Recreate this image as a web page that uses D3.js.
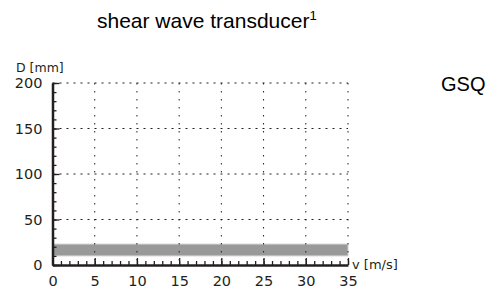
<!DOCTYPE html>
<html>
<head>
<meta charset="utf-8">
<script src="https://cdn.jsdelivr.net/npm/d3@7"></script>
<style>
  body { margin: 0; background: #fff; }
  svg { display: block; }
  .tick text { font-family: "DejaVu Sans", sans-serif; font-size: 14.5px; fill: #231f20; }
</style>
</head>
<body>
<div id="chart"></div>
<script>
// chart values
var xTicks = [0, 5, 10, 15, 20, 25, 30, 35];
var yTicks = [0, 50, 100, 150, 200];
var xDomain = [0, 35];
var yDomain = [0, 200];
var bandRange = [10, 23];   // D range of the transducer, mm
var title = "shear wave transducer";
var titleSup = "1";
var sideLabel = "GSQ";

var svgWidth = 492, svgHeight = 295;
var margin = { top: 83, right: 144, bottom: 30, left: 52.5 };
var width = svgWidth - margin.left - margin.right,
    height = svgHeight - margin.top - margin.bottom;

var svg = d3.select("#chart").append("svg")
    .attr("width", svgWidth)
    .attr("height", svgHeight);

var x = d3.scaleLinear().domain(xDomain).range([0, width]);
var y = d3.scaleLinear().domain(yDomain).range([height, 0]);

var g = svg.append("g")
    .attr("transform", "translate(" + margin.left + "," + margin.top + ")");

// band
g.append("rect")
    .attr("x", x(xDomain[0]))
    .attr("width", x(xDomain[1]) - x(xDomain[0]))
    .attr("y", y(bandRange[1]))
    .attr("height", y(bandRange[0]) - y(bandRange[1]))
    .attr("fill", "#999999")
    .attr("stroke", "#d0d0d0")
    .attr("stroke-width", 1);

// dotted grid
g.append("g").selectAll("line")
    .data(xTicks.filter(function (d) { return d > 0; }))
    .enter().append("line")
    .attr("x1", function (d) { return x(d); })
    .attr("x2", function (d) { return x(d); })
    .attr("y1", y(yDomain[1]))
    .attr("y2", y(yDomain[0]))
    .attr("stroke", "#231f20")
    .attr("stroke-width", 1)
    .attr("stroke-dasharray", "1.5,6.5");
g.append("g").selectAll("line")
    .data(yTicks.filter(function (d) { return d > 0; }))
    .enter().append("line")
    .attr("x1", x(xDomain[0]))
    .attr("x2", x(xDomain[1]))
    .attr("y1", function (d) { return y(d); })
    .attr("y2", function (d) { return y(d); })
    .attr("stroke", "#231f20")
    .attr("stroke-width", 1)
    .attr("stroke-dasharray", "2,5");

// minor ticks
var xAxisMinor = d3.axisBottom(x).ticks(35).tickSize(-4).tickFormat("");
var yAxisMinor = d3.axisLeft(y).ticks(20).tickSize(-4).tickFormat("");
g.append("g").attr("transform", "translate(0," + height + ")").call(xAxisMinor)
    .call(function (s) { s.select(".domain").remove(); })
    .selectAll("line").attr("stroke", "#231f20").attr("stroke-width", 1.3);
g.append("g").call(yAxisMinor)
    .call(function (s) { s.select(".domain").remove(); })
    .selectAll("line").attr("stroke", "#231f20").attr("stroke-width", 1.3);

// major axes
var xAxis = d3.axisBottom(x).tickValues(xTicks).tickSize(-7).tickPadding(14).tickSizeOuter(0);
var yAxis = d3.axisLeft(y).tickValues(yTicks).tickSize(-7).tickPadding(10).tickSizeOuter(0);
var xg = g.append("g").attr("transform", "translate(0," + height + ")").call(xAxis);
var yg = g.append("g").call(yAxis);
[xg, yg].forEach(function (a) {
    a.select(".domain").attr("stroke", "#231f20").attr("stroke-width", 2.5);
    a.selectAll(".tick line").attr("stroke", "#231f20").attr("stroke-width", 1.3);
});
xg.selectAll(".tick text").attr("dy", "0.71em").attr("y", 11);

// axis titles
svg.append("text")
    .attr("x", 16).attr("y", 72)
    .attr("font-family", "DejaVu Sans, sans-serif")
    .attr("font-size", 12.5)
    .attr("fill", "#231f20")
    .text("D [mm]");
svg.append("text")
    .attr("x", margin.left + width + 4).attr("y", margin.top + height + 4)
    .attr("font-family", "DejaVu Sans, sans-serif")
    .attr("font-size", 13)
    .attr("fill", "#231f20")
    .text("v [m/s]");

// title
var t = svg.append("text")
    .attr("x", 97).attr("y", 28)
    .attr("font-family", "Liberation Sans, Arial, sans-serif")
    .attr("font-size", 21)
    .attr("fill", "#000");
t.append("tspan").text(title);
t.append("tspan").attr("dy", -8).attr("font-size", 13).text(titleSup);

svg.append("text")
    .attr("x", 441).attr("y", 91)
    .attr("font-family", "Liberation Sans, Arial, sans-serif")
    .attr("font-size", 20)
    .attr("fill", "#000")
    .text(sideLabel);
</script>
</body>
</html>
